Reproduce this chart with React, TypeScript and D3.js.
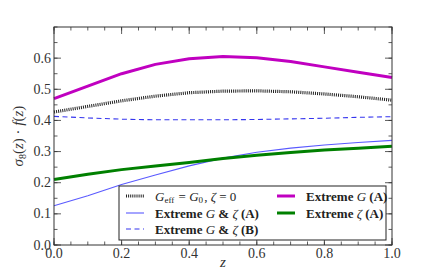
import React from 'react';
import * as d3 from 'd3';

const Z = [0.0, 0.1, 0.2, 0.3, 0.4, 0.5, 0.6, 0.7, 0.8, 0.9, 1.0];

const baseline = [0.427, 0.445, 0.463, 0.478, 0.489, 0.494, 0.495, 0.492, 0.485, 0.476, 0.465];
const extremeGZetaA = [0.126, 0.158, 0.194, 0.225, 0.254, 0.279, 0.298, 0.311, 0.321, 0.329, 0.336];
const extremeGZetaB = [0.413, 0.408, 0.404, 0.402, 0.402, 0.402, 0.403, 0.405, 0.407, 0.41, 0.412];
const extremeG = [0.47, 0.51, 0.55, 0.58, 0.598, 0.605, 0.601, 0.589, 0.572, 0.555, 0.538];
const extremeZeta = [0.21, 0.227, 0.242, 0.254, 0.265, 0.278, 0.288, 0.297, 0.305, 0.311, 0.317];

const xTicks = [0.0, 0.2, 0.4, 0.6, 0.8, 1.0];
const yTicks = [0.0, 0.1, 0.2, 0.3, 0.4, 0.5, 0.6];

const FONT = "Liberation Serif";

const SERIES = [
    { key: "base", values: baseline, color: "#222", width: 3.2, dash: "1,1.1" },
    { key: "gzA", values: extremeGZetaA, color: "#5a5aff", width: 1.1, dash: undefined },
    { key: "gzB", values: extremeGZetaB, color: "#3535ee", width: 1.1, dash: "5,3.5" },
    { key: "gA", values: extremeG, color: "#c000c0", width: 3, dash: undefined },
    { key: "zA", values: extremeZeta, color: "#008000", width: 3, dash: undefined },
];

const margin = { top: 27, right: 44, bottom: 28, left: 54 };
const W = 436;
const H = 273;
const width = W - margin.left - margin.right;
const height = H - margin.top - margin.bottom;

const xScale = d3.scaleLinear().domain([0, 1]).range([0, width]);
const yScale = d3.scaleLinear().domain([0, 0.7]).range([height, 0]);
const xMinor = d3.range(0, 1.0001, 0.05);
const yMinor = d3.range(0, 0.7001, 0.05);
const fmt = d3.format(".1f");

const line = d3.line<number>()
    .x((_, i) => xScale(Z[i]))
    .y((d) => yScale(d));

const Sub: React.FC<{ t: string }> = ({ t }) => (
    <>
        <tspan dy={2.5} fontSize={9}>{t}</tspan>
        <tspan dy={-2.5}>{"\u200A"}</tspan>
    </>
);

const legendRows = [
    { s: SERIES[0], x: 126, y: 196 },
    { s: SERIES[1], x: 126, y: 213 },
    { s: SERIES[2], x: 126, y: 229 },
    { s: SERIES[3], x: 277, y: 196 },
    { s: SERIES[4], x: 277, y: 213 },
];

const legendText = (key: string) => {
    const it = (s: string) => <tspan fontStyle="italic" fontWeight="normal">{s}</tspan>;
    if (key === "base") {
        return (
            <tspan fontWeight="normal">
                {it("G")}<Sub t="eff" />{" = "}{it("G")}<Sub t="0" />{", "}{it("ζ")}{" = 0"}
            </tspan>
        );
    }
    if (key === "gzA") return <>Extreme {it("G")} &amp; {it("ζ")} (A)</>;
    if (key === "gzB") return <>Extreme {it("G")} &amp; {it("ζ")} (B)</>;
    if (key === "gA") return <>Extreme {it("G")} (A)</>;
    return <>Extreme {it("ζ")} (A)</>;
};

const App: React.FC = () => {
    return (
        <svg width={W} height={H} style={{ display: "block", position: "absolute", left: 0, top: 0, background: "white" }} fontFamily={FONT}>
            <g transform={`translate(${margin.left},${margin.top})`}>
                {SERIES.map((s) => (
                    <path key={s.key} d={line(s.values) || ""} fill="none" stroke={s.color}
                        strokeWidth={s.width} strokeDasharray={s.dash} strokeLinejoin="round" />
                ))}

                {/* inward ticks on all sides */}
                <g stroke="#333" strokeWidth={0.8}>
                    {xMinor.map((v) => (
                        <g key={"xm" + v}>
                            <line x1={xScale(v)} x2={xScale(v)} y1={height} y2={height - 3.5} />
                            <line x1={xScale(v)} x2={xScale(v)} y1={0} y2={3.5} />
                        </g>
                    ))}
                    {xTicks.map((v) => (
                        <g key={"xM" + v}>
                            <line x1={xScale(v)} x2={xScale(v)} y1={height} y2={height - 7} />
                            <line x1={xScale(v)} x2={xScale(v)} y1={0} y2={7} />
                        </g>
                    ))}
                    {yMinor.map((v) => (
                        <g key={"ym" + v}>
                            <line x1={0} x2={3.5} y1={yScale(v)} y2={yScale(v)} />
                            <line x1={width} x2={width - 3.5} y1={yScale(v)} y2={yScale(v)} />
                        </g>
                    ))}
                    {yTicks.map((v) => (
                        <g key={"yM" + v}>
                            <line x1={0} x2={7} y1={yScale(v)} y2={yScale(v)} />
                            <line x1={width} x2={width - 7} y1={yScale(v)} y2={yScale(v)} />
                        </g>
                    ))}
                </g>

                <rect width={width} height={height} fill="none" stroke="#333" strokeWidth={1} />

                <g fontSize={14} fill="#333">
                    {xTicks.map((v) => (
                        <text key={"xl" + v} x={xScale(v)} y={height + 12.5} textAnchor="middle">{fmt(v)}</text>
                    ))}
                    {yTicks.map((v) => (
                        <text key={"yl" + v} x={-3} y={yScale(v) + 4.5} textAnchor="end">{fmt(v)}</text>
                    ))}
                </g>

                <text transform={`translate(-31,${height / 2}) rotate(-90)`} textAnchor="middle" fill="#333" fontSize={15}>
                    <tspan fontStyle="italic">σ</tspan>
                    <tspan dy={3} fontSize={10}>8</tspan>
                    <tspan dy={-3}>(</tspan>
                    <tspan fontStyle="italic">z</tspan>
                    <tspan>) · </tspan>
                    <tspan fontStyle="italic">f</tspan>
                    <tspan>(</tspan>
                    <tspan fontStyle="italic">z</tspan>
                    <tspan>)</tspan>
                </text>

                <text x={width / 2} y={height + 22} textAnchor="middle" fill="#333" fontSize={15} fontStyle="italic">z</text>
            </g>

            <g>
                <rect x={119} y={186} width={267} height={54} fill="white" stroke="#222" strokeWidth={1} />
                {legendRows.map((r) => (
                    <g key={"lg" + r.s.key}>
                        <line x1={r.x} x2={r.x + 18} y1={r.y} y2={r.y} stroke={r.s.color}
                            strokeWidth={r.s.width} strokeDasharray={r.s.dash} />
                        <text x={r.x + 29} y={r.y + 4.5} fill="#222" fontSize={13} fontWeight="bold">
                            {legendText(r.s.key)}
                        </text>
                    </g>
                ))}
            </g>
        </svg>
    );
};

export default App;
